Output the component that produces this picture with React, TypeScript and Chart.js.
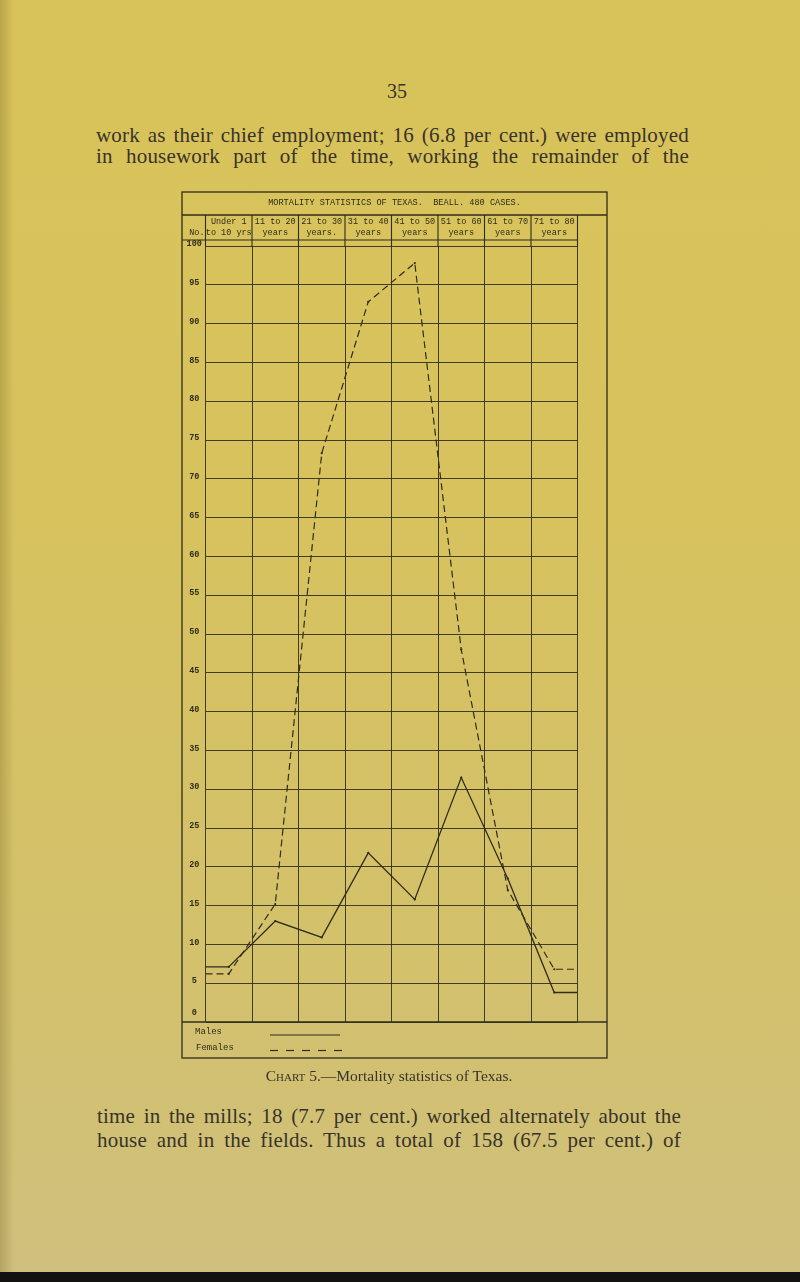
import React, { useEffect, useRef } from "react";
import { Chart, registerables } from "chart.js";

Chart.register(...registerables);

// ---------- data ----------
const headerLine1 = ["Under 1", "11 to 20", "21 to 30", "31 to 40", "41 to 50", "51 to 60", "61 to 70", "71 to 80"];
const headerLine2 = ["to 10 yrs", "years", "years.", "years", "years", "years", "years", "years"];
const males = [7.1, 13.0, 10.9, 21.8, 15.8, 31.5, 18.5, 3.8];
const females = [6.2, 15.2, 73.3, 92.8, 97.8, 48.0, 17.0, 6.8];
const yTickValues = [0, 5, 10, 15, 20, 25, 30, 35, 40, 45, 50, 55, 60, 65, 70, 75, 80, 85, 90, 95, 100];
const chartTitle = "MORTALITY STATISTICS OF TEXAS.  BEALL. 480 CASES.";
const legendLabels = ["Males", "Females"];

const INK = "#2f2c1b";
const TEXT = "#38332a";
const MONO = "'Liberation Mono', 'DejaVu Sans Mono', monospace";

function series(values: number[]) {
  const n = values.length;
  return [
    { x: 0, y: values[0] },
    ...values.map((v, i) => ({ x: i + 0.5, y: v })),
    { x: n, y: values[n - 1] },
  ];
}

const framePlugin = {
  id: "frame",
  afterDraw(chart: any) {
    const { ctx, chartArea, scales } = chart;
    const xs = scales.x;
    const ys = scales.y;
    const W = chart.width;
    const L = 7;
    const R = W - 8;
    const T = 7;
    const titleBottom = 30;
    const headerBottom = 55;
    const B = chart.height - 12;
    ctx.save();
    ctx.strokeStyle = INK;
    ctx.lineWidth = 1.3;
    ctx.strokeRect(L, T, R - L, B - T);
    ctx.beginPath();
    ctx.moveTo(L, titleBottom);
    ctx.lineTo(R, titleBottom);
    ctx.stroke();
    ctx.lineWidth = 1.1;
    ctx.beginPath();
    ctx.moveTo(L, headerBottom);
    ctx.lineTo(xs.getPixelForValue(headerLine1.length), headerBottom);
    ctx.stroke();
    for (let i = 0; i <= headerLine1.length; i++) {
      const px = xs.getPixelForValue(i);
      ctx.beginPath();
      ctx.moveTo(px, titleBottom);
      ctx.lineTo(px, chartArea.top);
      ctx.stroke();
    }
    ctx.lineWidth = 1.3;
    ctx.beginPath();
    ctx.moveTo(L, chartArea.bottom);
    ctx.lineTo(R, chartArea.bottom);
    ctx.stroke();

    // title
    ctx.fillStyle = INK;
    ctx.textBaseline = "middle";
    ctx.textAlign = "center";
    ctx.font = `8.6px ${MONO}`;
    ctx.fillText(chartTitle, (L + R) / 2, 18);

    // header labels
    ctx.font = `8.5px ${MONO}`;
    for (let i = 0; i < headerLine1.length; i++) {
      const cx = (xs.getPixelForValue(i) + xs.getPixelForValue(i + 1)) / 2;
      ctx.fillText(headerLine1[i], cx, 37);
      ctx.fillText(headerLine2[i], cx, 47.5);
    }
    ctx.textAlign = "right";
    ctx.fillText("No.", xs.getPixelForValue(0) - 1, 47.5);

    // y labels
    ctx.textAlign = "center";
    ctx.font = `bold 8.5px ${MONO}`;
    for (const v of yTickValues) {
      let py = ys.getPixelForValue(v) - 2;
      if (py > chartArea.bottom - 9) py = chartArea.bottom - 9;
      if (py < chartArea.top - 4) py = chartArea.top - 4;
      ctx.fillText(String(v), (L + xs.getPixelForValue(0)) / 2 + 0.5, py);
    }

    // legend
    ctx.textAlign = "left";
    ctx.font = `9px ${MONO}`;
    const ly1 = chartArea.bottom + 10;
    const ly2 = chartArea.bottom + 26;
    ctx.fillText(legendLabels[0], L + 13, ly1);
    ctx.fillText(legendLabels[1], L + 14, ly2);
    ctx.lineWidth = 1.2;
    ctx.beginPath();
    ctx.moveTo(95, ly1 + 3);
    ctx.lineTo(165, ly1 + 3);
    ctx.stroke();
    ctx.setLineDash([8, 8]);
    ctx.beginPath();
    ctx.moveTo(95, ly2 + 2.5);
    ctx.lineTo(167, ly2 + 2.5);
    ctx.stroke();
    ctx.restore();
  },
};

function MortalityChart() {
  const ref = useRef<HTMLCanvasElement | null>(null);
  useEffect(() => {
    if (!ref.current) return;
    const chart = new Chart(ref.current, {
      type: "line",
      data: {
        datasets: [
          {
            label: legendLabels[0],
            data: series(males),
            borderColor: INK,
            borderWidth: 1.3,
            pointRadius: (c: any) => (c.dataIndex === 0 || c.dataIndex === males.length + 1 ? 0 : 1.1),
            pointBackgroundColor: INK,
            pointBorderWidth: 0,
            tension: 0,
            fill: false,
          },
          {
            label: legendLabels[1],
            data: series(females),
            borderColor: INK,
            borderWidth: 1.2,
            borderDash: [7, 4],
            pointRadius: (c: any) => (c.dataIndex === 0 || c.dataIndex === females.length + 1 ? 0 : 1.1),
            pointBackgroundColor: INK,
            pointBorderWidth: 0,
            tension: 0,
            fill: false,
          },
        ],
      },
      options: {
        animation: false,
        responsive: false,
        layout: { padding: { left: 30.5, right: 37.5, top: 61, bottom: 48 } },
        plugins: { legend: { display: false }, tooltip: { enabled: false }, title: { display: false } },
        scales: {
          x: {
            type: "linear",
            min: 0,
            max: headerLine1.length,
            ticks: { stepSize: 1, display: false },
            grid: { color: "rgba(40,38,22,0.85)", lineWidth: 1, drawTicks: false },
            border: { display: false },
          },
          y: {
            type: "linear",
            min: yTickValues[0],
            max: yTickValues[yTickValues.length - 1],
            ticks: { stepSize: 5, display: false },
            grid: { color: "rgba(40,38,22,0.85)", lineWidth: 1, drawTicks: false },
            border: { display: false },
          },
        },
      },
      plugins: [framePlugin],
    } as any);
    return () => chart.destroy();
  }, []);
  return <canvas ref={ref} width={440} height={885} style={{ width: 440, height: 885, display: "block" }} />;
}

const serif = "'Liberation Serif', 'DejaVu Serif', serif";

const lineStyle = (top: number, left: number, width: number): React.CSSProperties => ({
  position: "absolute",
  top,
  left,
  width,
  fontFamily: serif,
  fontSize: 21,
  lineHeight: "21px",
  letterSpacing: "0.2px",
  color: TEXT,
  textAlign: "justify",
  textAlignLast: "justify" as any,
});

export default function App() {
  return (
    <div
      style={{
        position: "absolute",
        left: 0,
        top: 0,
        width: 800,
        height: 1282,
        overflow: "hidden",
        background: "linear-gradient(to bottom, #d8c35a 0%, #d7c25e 40%, #d3c16c 75%, #cfc07e 100%)",
      }}
    >
      <div style={{ position: "absolute", left: 0, top: 0, width: 14, height: 1282, background: "linear-gradient(to right, rgba(110,90,30,0.28), rgba(110,90,30,0))" }} />
      <div style={{ position: "absolute", left: 377, top: 81, width: 40, textAlign: "center", fontFamily: serif, fontSize: 20, lineHeight: "20px", color: TEXT }}>35</div>
      <div style={lineStyle(124.5, 96, 593)}>work as their chief employment; 16 (6.8 per cent.) were employed</div>
      <div style={lineStyle(146, 96, 593)}>in housework part of the time, working the remainder of the</div>
      <div style={{ position: "absolute", left: 175, top: 185 }}>
        <MortalityChart />
      </div>
      <div style={{ position: "absolute", left: 219, top: 1068, width: 340, textAlign: "center", fontFamily: serif, fontSize: 15.5, lineHeight: "15.5px", color: TEXT }}>
        <span style={{ fontVariant: "small-caps" }}>Chart</span> 5.—Mortality statistics of Texas.
      </div>
      <div style={lineStyle(1105.5, 97, 584)}>time in the mills; 18 (7.7 per cent.) worked alternately about the</div>
      <div style={lineStyle(1129.5, 97, 584)}>house and in the fields.  Thus a total of 158 (67.5 per cent.) of</div>
      <div style={{ position: "absolute", left: 0, top: 1272, width: 800, height: 10, background: "#141210" }} />
    </div>
  );
}
